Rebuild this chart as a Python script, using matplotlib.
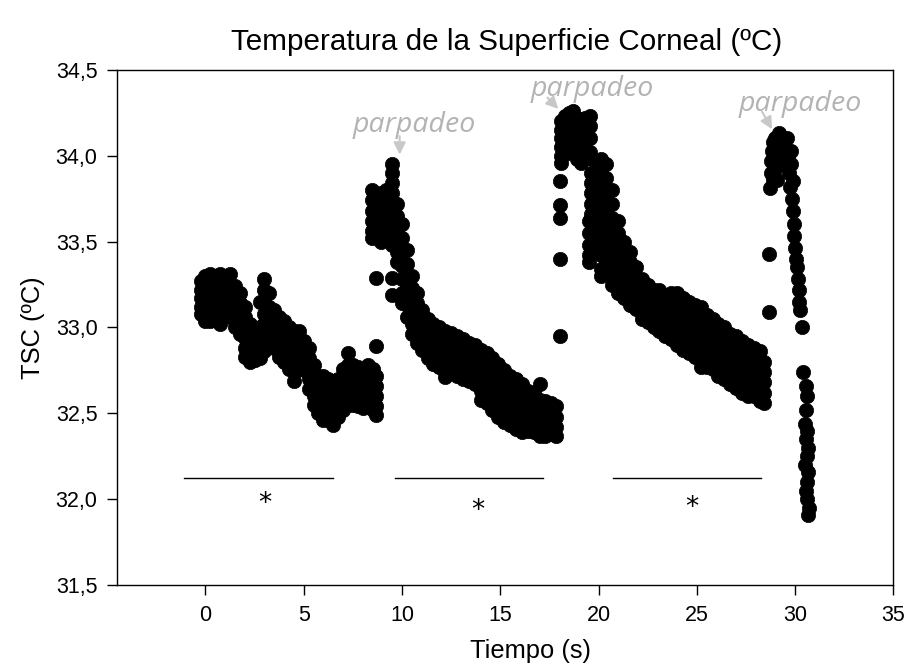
import numpy as np
import matplotlib
matplotlib.use("Agg")
import matplotlib.pyplot as plt
from matplotlib.ticker import FuncFormatter

# columns of readings: time (s) and the TSC values (ºC) seen at that time
seg1_t = [-0.25, 0.0, 0.25, 0.5, 0.75, 1.0, 1.25, 1.5, 1.75, 2.0, 2.25, 2.5, 2.75,
          3.0, 3.25, 3.5, 3.75, 4.0, 4.25, 4.5, 4.75, 5.0, 5.25, 5.5, 5.75, 6.0,
          6.25, 6.5, 6.75, 7.0, 7.25, 7.5, 7.75, 8.0, 8.25, 8.5, 8.7]
seg1_y = [[33.27, 33.22, 33.17, 33.12, 33.08],
          [33.30, 33.25, 33.20, 33.14, 33.08, 33.04],
          [33.31, 33.26, 33.21, 33.16, 33.10, 33.04],
          [33.30, 33.24, 33.18, 33.12, 33.07],
          [33.31, 33.26, 33.20, 33.14, 33.08, 33.02],
          [33.30, 33.24, 33.18, 33.12, 33.07],
          [33.31, 33.25, 33.19, 33.13, 33.06],
          [33.24, 33.18, 33.12, 33.05, 33.00],
          [33.20, 33.14, 33.08, 33.02, 32.96],
          [33.12, 33.06, 33.00, 32.94, 32.88, 32.83],
          [33.02, 32.96, 32.90, 32.84, 32.80],
          [32.98, 32.92, 32.86, 32.81],
          [33.15, 33.00, 32.94, 32.88, 32.82],
          [33.28, 33.22, 33.15, 33.08, 33.02, 32.96, 32.90, 32.86],
          [33.20, 33.12, 33.06, 33.00, 32.95, 32.90],
          [33.10, 33.04, 32.98, 32.93, 32.88],
          [33.06, 33.00, 32.94, 32.88, 32.83],
          [33.04, 32.98, 32.92, 32.86, 32.80],
          [33.00, 32.94, 32.88, 32.82, 32.76],
          [32.98, 32.92, 32.86, 32.80, 32.74, 32.69],
          [32.98, 32.93, 32.87, 32.81, 32.76],
          [32.92, 32.86, 32.80, 32.75],
          [32.88, 32.82, 32.76, 32.70, 32.64],
          [32.78, 32.72, 32.66, 32.60, 32.55],
          [32.72, 32.66, 32.60, 32.54, 32.50],
          [32.72, 32.66, 32.60, 32.55, 32.50, 32.46],
          [32.70, 32.64, 32.58, 32.52, 32.46],
          [32.68, 32.62, 32.56, 32.50, 32.43],
          [32.70, 32.64, 32.58, 32.52, 32.48],
          [32.76, 32.70, 32.64, 32.58, 32.52],
          [32.85, 32.78, 32.72, 32.66, 32.60, 32.55],
          [32.78, 32.72, 32.66, 32.60, 32.55],
          [32.77, 32.71, 32.65, 32.59, 32.54],
          [32.76, 32.70, 32.64, 32.58, 32.53],
          [32.78, 32.72, 32.66, 32.60, 32.55],
          [32.76, 32.70, 32.64, 32.58, 32.52],
          [32.89, 32.72, 32.66, 32.60, 32.54, 32.49]]

seg2_t = [8.45, 8.7, 8.95, 9.2, 9.5, 9.75, 10.0, 10.25, 10.5, 10.75, 11.0, 11.3,
          11.6, 11.9, 12.2, 12.5, 12.8, 13.1, 13.4, 13.7, 14.0, 14.3, 14.6, 14.9,
          15.2, 15.5, 15.8, 16.1, 16.4, 16.7, 17.0, 17.3, 17.6, 17.85]
seg2_y = [[33.80, 33.74, 33.68, 33.62, 33.56, 33.52],
          [33.76, 33.70, 33.64, 33.58, 33.29],
          [33.78, 33.72, 33.66, 33.60, 33.54, 33.50],
          [33.80, 33.74, 33.68, 33.62, 33.56],
          [33.95, 33.90, 33.84, 33.78, 33.72, 33.66, 33.60, 33.54, 33.48, 33.29, 33.19],
          [33.72, 33.65, 33.58, 33.51, 33.44, 33.38],
          [33.60, 33.52, 33.44, 33.36, 33.28, 33.20, 33.14],
          [33.45, 33.37, 33.29, 33.21, 33.13, 33.06],
          [33.30, 33.23, 33.16, 33.09, 33.02, 32.96],
          [33.20, 33.14, 33.08, 33.02, 32.96, 32.91],
          [33.10, 33.04, 32.98, 32.92, 32.87],
          [33.05, 32.99, 32.93, 32.87, 32.82],
          [33.02, 32.96, 32.90, 32.84, 32.79],
          [33.00, 32.94, 32.88, 32.82, 32.77],
          [32.98, 32.92, 32.86, 32.80, 32.74, 32.71],
          [32.97, 32.91, 32.85, 32.79, 32.74],
          [32.95, 32.89, 32.83, 32.77, 32.72],
          [32.93, 32.87, 32.81, 32.75, 32.70],
          [32.91, 32.85, 32.79, 32.73, 32.69],
          [32.90, 32.84, 32.78, 32.72, 32.67],
          [32.87, 32.81, 32.75, 32.69, 32.63, 32.58],
          [32.85, 32.79, 32.73, 32.67, 32.61, 32.56],
          [32.82, 32.76, 32.70, 32.64, 32.58, 32.52],
          [32.79, 32.73, 32.67, 32.61, 32.55, 32.48],
          [32.75, 32.69, 32.63, 32.57, 32.51, 32.45],
          [32.72, 32.66, 32.60, 32.54, 32.48, 32.43],
          [32.70, 32.64, 32.58, 32.52, 32.46, 32.41],
          [32.67, 32.61, 32.55, 32.49, 32.43, 32.39],
          [32.63, 32.57, 32.51, 32.45, 32.40],
          [32.62, 32.56, 32.50, 32.44, 32.39],
          [32.67, 32.58, 32.52, 32.46, 32.40, 32.37],
          [32.57, 32.51, 32.45, 32.39, 32.37],
          [32.56, 32.50, 32.44, 32.38],
          [32.54, 32.48, 32.42, 32.37]]

seg3_t = [18.03, 18.1, 18.3, 18.5, 18.7, 18.9, 19.1, 19.3, 19.55, 19.6, 19.5, 19.8,
          20.1, 20.4, 20.7, 21.0, 21.3, 21.6, 21.9, 22.2, 22.5, 22.8, 23.1, 23.4,
          23.7, 24.0, 24.3, 24.6, 24.9, 25.2, 25.5, 25.8, 26.1, 26.4, 26.7, 27.0,
          27.3, 27.6, 27.9, 28.2, 28.4]
seg3_y = [[32.95, 33.40, 33.64, 33.71, 33.85],
          [34.20, 34.15, 34.10, 34.05, 34.00, 33.96],
          [34.23, 34.17, 34.12, 34.06, 34.01],
          [34.25, 34.20, 34.14, 34.08, 34.03],
          [34.26, 34.20, 34.14, 34.08, 34.02],
          [34.22, 34.16, 34.10, 34.04, 33.98],
          [34.20, 34.14, 34.08, 34.02, 33.96],
          [34.22, 34.16, 34.10, 34.04, 33.98],
          [34.23, 34.17, 34.10, 34.02],
          [33.90, 33.84, 33.78, 33.72, 33.66],
          [33.62, 33.55, 33.48, 33.42, 33.38],
          [33.97, 33.88, 33.80, 33.72, 33.64, 33.56, 33.50, 33.44],
          [33.98, 33.90, 33.82, 33.74, 33.66, 33.58, 33.50, 33.42, 33.34, 33.30],
          [33.95, 33.87, 33.79, 33.71, 33.63, 33.55, 33.47, 33.39, 33.31],
          [33.80, 33.72, 33.64, 33.56, 33.48, 33.40, 33.32, 33.25],
          [33.62, 33.55, 33.48, 33.41, 33.34, 33.27, 33.20],
          [33.50, 33.43, 33.37, 33.30, 33.23, 33.17],
          [33.44, 33.38, 33.32, 33.26, 33.20, 33.13],
          [33.35, 33.29, 33.23, 33.17, 33.11],
          [33.28, 33.22, 33.16, 33.10, 33.05],
          [33.25, 33.19, 33.13, 33.07, 33.03],
          [33.22, 33.16, 33.10, 33.04, 33.00],
          [33.22, 33.16, 33.10, 33.04, 32.98],
          [33.19, 33.13, 33.07, 33.01, 32.95],
          [33.20, 33.14, 33.08, 33.02, 32.96, 32.93],
          [33.20, 33.14, 33.08, 33.02, 32.96, 32.90],
          [33.17, 33.11, 33.05, 32.99, 32.93, 32.87],
          [33.15, 33.09, 33.03, 32.97, 32.91, 32.85],
          [33.13, 33.07, 33.01, 32.95, 32.89, 32.83],
          [33.12, 33.06, 33.00, 32.94, 32.88, 32.82, 32.77],
          [33.07, 33.01, 32.95, 32.89, 32.83, 32.77],
          [33.05, 32.99, 32.93, 32.87, 32.81, 32.76],
          [33.02, 32.96, 32.90, 32.84, 32.78, 32.72],
          [33.00, 32.94, 32.88, 32.82, 32.76, 32.70],
          [32.96, 32.90, 32.84, 32.78, 32.72, 32.67],
          [32.95, 32.89, 32.83, 32.77, 32.71, 32.65],
          [32.92, 32.86, 32.80, 32.74, 32.68, 32.62],
          [32.90, 32.84, 32.78, 32.72, 32.66, 32.60],
          [32.88, 32.82, 32.76, 32.70, 32.64, 32.60],
          [32.86, 32.80, 32.74, 32.68, 32.62, 32.57],
          [32.80, 32.74, 32.68, 32.62, 32.56]]

seg4_t = [28.68, 28.68, 28.7, 28.75, 28.75, 28.8, 28.9, 28.85, 29.0, 29.0, 29.0, 29.1,
          29.2, 29.2, 29.2, 29.3, 29.35, 29.4, 29.5, 29.5, 29.6, 29.65, 29.7, 29.75,
          29.8, 29.8, 29.85, 29.9, 29.9, 29.95, 29.95, 30.0, 30.05, 30.1, 30.15, 30.2,
          30.2, 30.25, 30.35, 30.4, 30.55, 30.6, 30.55, 30.5, 30.6, 30.55, 30.65, 30.6,
          30.5, 30.65, 30.6, 30.55, 30.6, 30.7, 30.67]
seg4_y = [33.43, 33.09, 33.81, 33.90, 33.97, 34.03, 34.08, 33.86, 34.10, 34.00, 33.92, 33.86,
          34.13, 34.05, 33.95, 34.08, 33.98, 34.10, 34.05, 33.96, 34.10, 34.00, 33.90, 33.82,
          34.03, 33.95, 33.75, 33.85, 33.68, 33.60, 33.53, 33.46, 33.40, 33.35, 33.28, 33.22,
          33.15, 33.10, 33.00, 32.74, 32.66, 32.60, 32.52, 32.44, 32.40, 32.35, 32.30, 32.25,
          32.20, 32.16, 32.10, 32.05, 32.00, 31.95, 31.91]

# significance bars (start, end) and asterisk positions
bars_t = [(-1.07, 6.47), (9.63, 17.19), (20.72, 28.27)]
bar_y = 32.125
stars_t = [3.0, 13.86, 24.76]
stars_y = [31.97, 31.93, 31.95]

# blink labels: text position and arrow (from, to)
blink_txt = [(10.6, 34.18), (19.66, 34.39), (30.26, 34.30)]
blink_arrow = [((9.88, 34.13), (9.88, 33.99)),
               ((17.3, 34.35), (18.05, 34.26)),
               ((28.25, 34.27), (28.9, 34.14))]

xt, yv = [], []
for ts, ys in ((seg1_t, seg1_y), (seg2_t, seg2_y), (seg3_t, seg3_y)):
    for t, col in zip(ts, ys):
        for v in col:
            xt.append(t)
            yv.append(v)
xt += seg4_t
yv += seg4_y

fig = plt.figure(figsize=(9.07, 6.71), dpi=100)
ax = fig.add_axes([0.129, 0.128, 0.856, 0.768])

ax.plot(xt, yv, 'o', color='black', ms=10.3, mec='black', mew=0.5, ls='none')

for (a, b) in bars_t:
    ax.plot([a, b], [bar_y, bar_y], color='black', lw=1.0)
for t, s in zip(stars_t, stars_y):
    ax.text(t, s, '*', ha='center', va='center', fontsize=19, family='DejaVu Sans')

gray = '#b3b3b3'
for (tx, ty), (p0, p1) in zip(blink_txt, blink_arrow):
    ax.text(tx, ty, 'parpadeo', ha='center', va='center', fontsize=20.5, style='italic',
            color=gray, family='Open Sans', clip_on=False)
    ax.annotate('', xy=p1, xytext=p0,
                arrowprops=dict(arrowstyle='-|>', color='#c8c8c8', lw=1.5, mutation_scale=18),
                annotation_clip=False)

ax.set_xlim(-4.5, 35)
ax.set_ylim(31.5, 34.5)
ax.set_xticks(np.arange(0, 36, 5))
ax.set_yticks(np.arange(31.5, 34.51, 0.5))
ax.yaxis.set_major_formatter(FuncFormatter(lambda v, p: ('%.1f' % v).replace('.', ',')))
for s in ax.spines.values():
    s.set_linewidth(1.0)
ax.tick_params(direction='out', length=7, width=1.0, labelsize=15.5, pad=7)
for lab in ax.get_xticklabels() + ax.get_yticklabels():
    lab.set_family('Liberation Sans')

fig.text(0.559, 0.937, 'Temperatura de la Superficie Corneal (ºC)', ha='center', va='center',
         fontsize=21.3, family='Liberation Sans')
fig.text(0.585, 0.030, 'Tiempo (s)', ha='center', va='center', fontsize=18.4, family='Liberation Sans')
fig.text(0.036, 0.512, 'TSC (ºC)', ha='center', va='center', rotation=90, fontsize=18.4,
         family='Liberation Sans')

fig.savefig('out.png', dpi=100)
